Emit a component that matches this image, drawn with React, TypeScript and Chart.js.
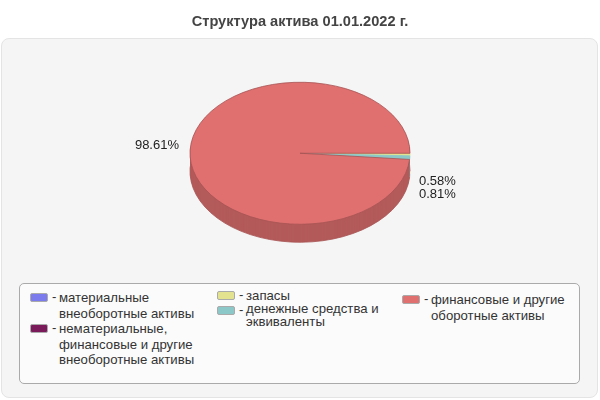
import { useEffect, useRef } from "react";
import { Chart, registerables } from "chart.js";

Chart.register(...registerables);

const titleText = "Структура актива 01.01.2022 г.";
const categories = [
  "материальные внеоборотные активы",
  "нематериальные, финансовые и другие внеоборотные активы",
  "запасы",
  "денежные средства и эквиваленты",
  "финансовые и другие оборотные активы",
];
const shares = [0, 0, 0.58, 0.81, 98.61];
const colors = ["#7b7bee", "#7a1a5a", "#e3e38f", "#8cc8c8", "#e07070"];
const sideColors = ["#6262be", "#621548", "#e3e38f", "#70a0a0", "#b35a5a"];
const borderColors = ["#5c5cb2", "#5c1444", "#e3e38f", "#8cc8c8", "#a85454"];

const SQUASH = 71 / 110;
const DEPTH = 18;

const piePlugin = {
  id: "pie3d",
  beforeDatasetsDraw(chart: any) {
    const ctx = chart.ctx;
    const arcs = chart.getDatasetMeta(0).data;
    const cy = arcs[0].y;
    const drawLayer = (offset: number, override: (i: number) => object) => {
      ctx.save();
      ctx.translate(0, cy + offset);
      ctx.scale(1, SQUASH);
      ctx.translate(0, -cy);
      arcs.forEach((arc: any, i: number) => {
        const copy = Object.create(arc);
        copy.options = { ...arc.options, ...override(i) };
        copy.draw(ctx);
      });
      ctx.restore();
    };
    drawLayer(DEPTH, (i) => ({ backgroundColor: sideColors[i], borderColor: borderColors[i] }));
    for (let d = DEPTH - 1; d > 0; d--) {
      drawLayer(d, (i) => ({ backgroundColor: sideColors[i], borderWidth: 0 }));
    }
    drawLayer(0, () => ({}));
    // the flat pie is replaced by the layers above
    return false;
  },
  afterDraw(chart: any) {
    const ctx = chart.ctx;
    ctx.save();
    ctx.font = "13px 'Liberation Sans'";
    ctx.fillStyle = "#222";
    ctx.textBaseline = "middle";
    ctx.textAlign = "left";
    ctx.fillText(shares[2].toFixed(2) + "%", 419, 181);
    ctx.fillText(shares[3].toFixed(2) + "%", 419, 194);
    ctx.textAlign = "right";
    ctx.fillText(shares[4].toFixed(2) + "%", 179, 145);
    ctx.restore();
  },
};

const legendItems = [
  { index: 0, left: 30, top: 290, lineHeight: 16, lines: ["материальные", "внеоборотные активы"] },
  { index: 1, left: 30, top: 321, lineHeight: 15.7, lines: ["нематериальные,", "финансовые и другие", "внеоборотные активы"] },
  { index: 2, left: 217, top: 288, lineHeight: 16, lines: ["запасы"] },
  { index: 3, left: 217, top: 303, lineHeight: 12.5, lines: ["денежные средства и", "эквиваленты"] },
  { index: 4, left: 402, top: 292, lineHeight: 16, lines: ["финансовые и другие", "оборотные активы"] },
];

export default function App() {
  const chartRef = useRef<HTMLCanvasElement | null>(null);

  useEffect(() => {
    document.body.style.margin = "0";
    if (!chartRef.current) return;
    const chart = new Chart(chartRef.current, {
      type: "pie",
      data: {
        labels: categories,
        datasets: [
          {
            data: shares,
            backgroundColor: colors,
            borderColor: borderColors,
            borderWidth: 1,
            radius: 110,
          },
        ],
      },
      options: {
        responsive: false,
        animation: false,
        rotation: 90,
        layout: { padding: { top: 10, bottom: 137 } },
        plugins: {
          legend: { display: false },
          tooltip: { enabled: false },
          title: {
            display: true,
            text: titleText,
            color: "#444",
            font: { family: "'Liberation Sans'", size: 14.6, weight: "bold" },
            padding: { top: 3, bottom: 13 },
          },
        },
      },
      plugins: [piePlugin],
    } as any);
    return () => chart.destroy();
  }, []);

  return (
    <div style={{ position: "relative", width: 600, height: 400, fontFamily: "'Liberation Sans'", overflow: "hidden" }}>
      <div
        style={{
          position: "absolute",
          left: 1,
          top: 38,
          width: 595,
          height: 358,
          background: "#f5f5f5",
          border: "1px solid #e4e4e4",
          borderRadius: 8,
        }}
      />
      <div
        style={{
          position: "absolute",
          left: 19,
          top: 283,
          width: 559,
          height: 99,
          background: "#fbfbfb",
          border: "1px solid #aaa",
          borderRadius: 5,
        }}
      />
      {legendItems.map((item) => (
        <div key={item.index} style={{ position: "absolute", left: item.left, top: item.top, color: "#333", fontSize: 13.2 }}>
          <span
            style={{
              position: "absolute",
              left: 0,
              top: 3,
              width: 16,
              height: 7,
              background: colors[item.index],
              border: "1px solid #aaa",
              borderRadius: 2,
            }}
          />
          <span style={{ position: "absolute", left: 22, top: 0, lineHeight: "14px" }}>-</span>
          <div style={{ position: "absolute", left: 29, top: 0, whiteSpace: "nowrap", lineHeight: item.lineHeight + "px" }}>
            {item.lines.map((line) => (
              <div key={line}>{line}</div>
            ))}
          </div>
        </div>
      ))}
      <canvas ref={chartRef} width={600} height={400} style={{ position: "absolute", left: 0, top: 0 }} />
    </div>
  );
}
